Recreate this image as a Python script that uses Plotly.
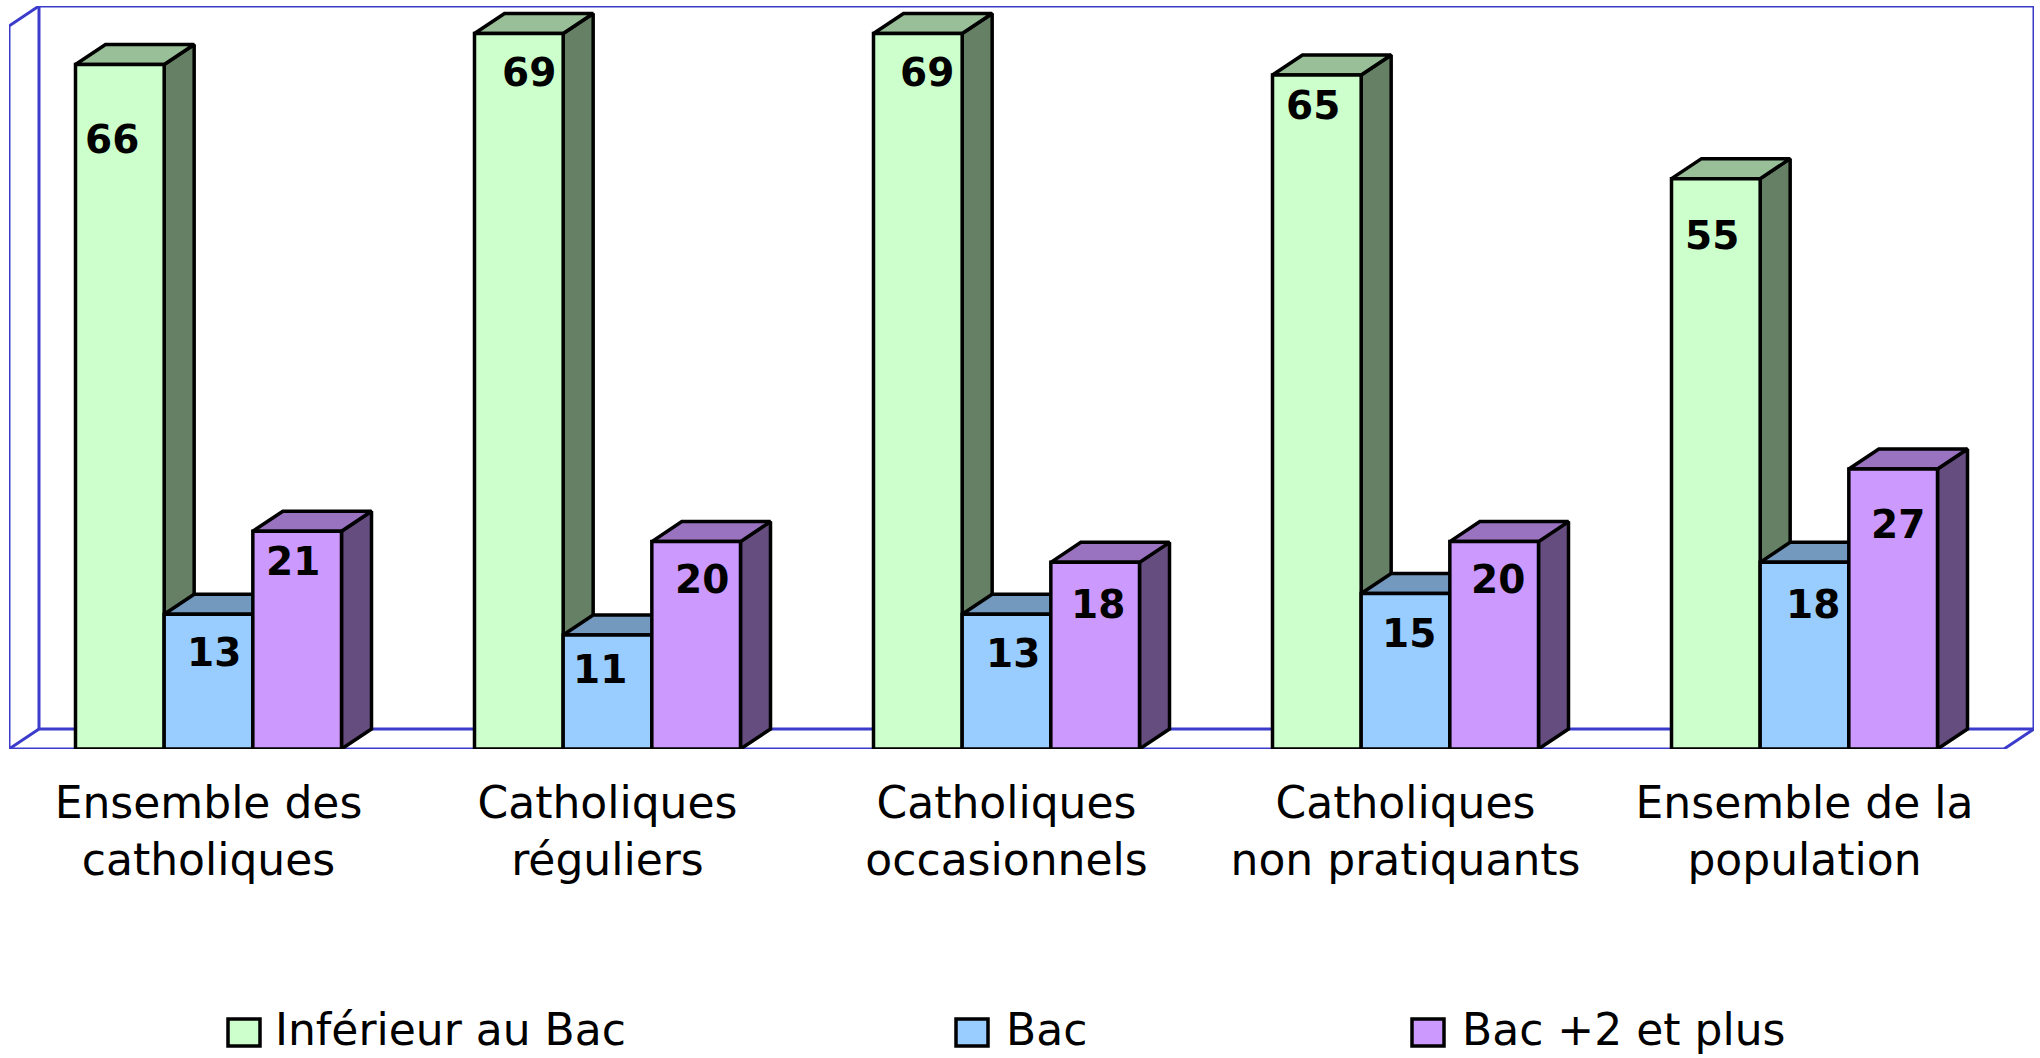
"""
Niveau de diplome - barres groupees facon 3D
"""

import plotly.graph_objects as go

CATEGORIES = ["Ensemble des<br>catholiques", "Catholiques<br>réguliers", "Catholiques<br>occasionnels",
              "Catholiques<br>non pratiquants", "Ensemble de la<br>population"]
SERIES_NAMES = ["Inférieur au Bac", "Bac", "Bac +2 et plus"]
INFERIEUR = [66, 69, 69, 65, 55]
BAC = [13, 11, 13, 15, 18]
BAC_PLUS = [21, 20, 18, 20, 27]

# front, top, side
COLORS = [("#ccffcc", "#99bf99", "#668066"),
          ("#99ccff", "#7399bf", "#4d6680"),
          ("#cc99ff", "#9973bf", "#664d80")]
FRAME = "#3c3ccc"
FONT = "DejaVu Sans"

W, H = 2040, 1058
LEFT, RIGHT, TOP, BOTTOM = 9, 2034, 6, 749
PX_X = 399.0           # px per category
PX_Y = 10.37           # px per unit
DX = 30 / PX_X         # depth of the fake 3d
DY = 20 / PX_Y
BAR_W = 1 / 4.5
X_MAX = (RIGHT - LEFT) / PX_X
Y_MAX = (BOTTOM - TOP) / PX_Y

# label nudges in px (xshift, down from bar top)
NUDGE = [[(-8, 75), (10, 39), (9, 39), (-4, 31), (-4, 57)],
         [(5, 38), (-8, 35), (6, 39), (3, 40), (8, 42)],
         [(-4, 30), (6, 38), (3, 42), (4, 38), (5, 55)]]

# legend swatch left, text left
LEG = [(228, 273), (956, 1004), (1412, 1460)]

centers = [i + 0.5 for i in range(len(CATEGORIES))]
series = [INFERIEUR, BAC, BAC_PLUS]


def faces(vals, x_off):
    tx, ty, sx, sy = [], [], [], []
    for c, v in zip(centers, vals):
        x0, x1 = c + x_off, c + x_off + BAR_W
        tx += [x0, x0 + DX, x1 + DX, x1, x0, None]
        ty += [v, v + DY, v + DY, v, v, None]
        sx += [x1, x1 + DX, x1 + DX, x1, x1, None]
        sy += [0, DY, v + DY, v, 0, None]
    return tx, ty, sx, sy


fig = go.Figure()

# walls and floor
n = len(CATEGORIES)
fig.add_trace(go.Scatter(
    x=[DX, X_MAX, X_MAX, DX, DX, None, DX, 0, 0, DX, None, 0, n, X_MAX],
    y=[Y_MAX, Y_MAX, DY, DY, Y_MAX, None, Y_MAX, Y_MAX - DY, 0, DY, None, 0, 0, DY],
    mode="lines", line=dict(color=FRAME, width=3), cliponaxis=False,
    hoverinfo="skip", showlegend=False, zorder=-1,
))

annotations = []
for j, vals in enumerate(series):
    off = (j - 1.5) * BAR_W
    front, top, side = COLORS[j]
    tx, ty, sx, sy = faces(vals, off)
    for px, py, col in [(sx, sy, side), (tx, ty, top)]:
        fig.add_trace(go.Scatter(
            x=px, y=py, mode="lines", fill="toself", fillcolor=col,
            line=dict(color="black", width=3.5), cliponaxis=False,
            hoverinfo="skip", showlegend=False, zorder=2 * j,
        ))
    fig.add_trace(go.Bar(
        x=centers, y=vals, width=BAR_W, offset=off, name=SERIES_NAMES[j],
        marker=dict(color=front, line=dict(color="black", width=3.5)),
        cliponaxis=False, showlegend=False, zorder=2 * j + 1,
    ))
    for c, v, (xs, down) in zip(centers, vals, NUDGE[j]):
        annotations.append(dict(
            x=c + off + BAR_W / 2, y=v, text=str(v), showarrow=False,
            xshift=xs, yshift=-down, font=dict(family=FONT, size=39, color="black", weight="bold"),
        ))

shapes = []
for name, (front, _, _), (sw, tx) in zip(SERIES_NAMES, COLORS, LEG):
    shapes.append(dict(type="rect", xref="paper", yref="paper",
                       x0=(sw - LEFT) / (RIGHT - LEFT), x1=(sw + 32 - LEFT) / (RIGHT - LEFT),
                       y0=(BOTTOM - 1019) / (BOTTOM - TOP), y1=(BOTTOM - 1046) / (BOTTOM - TOP),
                       fillcolor=front, line=dict(color="black", width=3.5)))
    annotations.append(dict(
        xref="paper", yref="paper", x=(tx - LEFT) / (RIGHT - LEFT), y=(BOTTOM - 1029) / (BOTTOM - TOP),
        xanchor="left", yanchor="middle", text=name, showarrow=False,
        font=dict(family=FONT, size=44, color="black"),
    ))

fig.update_layout(
    width=W, height=H, paper_bgcolor="white", plot_bgcolor="white",
    barmode="overlay", showlegend=False,
    margin=dict(l=LEFT, r=W - RIGHT, t=TOP, b=H - BOTTOM, pad=0),
    xaxis=dict(range=[0, X_MAX], tickvals=centers, ticktext=CATEGORIES, showgrid=False,
               zeroline=False, showline=False, ticks="", ticklabelstandoff=24,
               tickangle=0, tickfont=dict(family=FONT, size=44, color="black")),
    yaxis=dict(range=[0, Y_MAX], showgrid=False, zeroline=False, showline=False,
               showticklabels=False, ticks=""),
    annotations=annotations, shapes=shapes,
)

# the page's default body margin would push the chart 8px in
fig.write_html("out.html", config=dict(displayModeBar=False),
               post_script="document.body.style.margin='0';")
